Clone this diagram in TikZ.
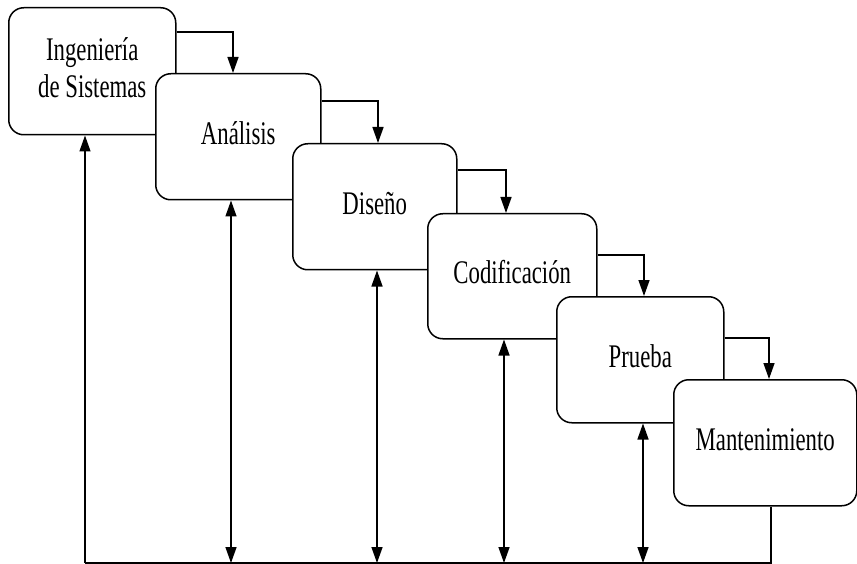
\documentclass[tikz,border=0pt]{standalone}
\usepackage{fontspec}
\setmainfont{Liberation Serif}
\usetikzlibrary{arrows.meta}
% narrow, tall lettering for the phase names
\newcommand{\phasetext}[1]{\scalebox{0.69}[1]{\begin{tabular}{@{}c@{}}#1\end{tabular}}}
\tikzset{
  phase/.style={draw, fill=white, line width=1.5pt, rounded corners=15pt,
    inner sep=0pt, anchor=north west,
    font=\fontsize{33}{37}\selectfont},
  link/.style={line width=1.4pt, -{Triangle[length=16pt,width=11pt]}},
  twoway/.style={line width=1.4pt, {Triangle[length=16pt,width=11pt]}-{Triangle[length=16pt,width=11pt]}},
  plain/.style={line width=1.4pt}
}
\begin{document}
\begin{tikzpicture}[x=1pt,y=1pt]
\useasboundingbox (0,0) rectangle (857,-564);

% phases of the cascade
\node[phase, minimum width=167pt, minimum height=127pt] (b1) at (8,-7)
  {\phasetext{Ingeniería\\de Sistemas}};
\node[phase, minimum width=165pt, minimum height=126pt] (b2) at (155,-73)
  {\phasetext{Análisis}};
\node[phase, minimum width=164pt, minimum height=126pt] (b3) at (292,-143)
  {\phasetext{Diseño}};
\node[phase, minimum width=169pt, minimum height=125pt] (b4) at (427,-213)
  {\phasetext{Codificación}};
\node[phase, minimum width=167pt, minimum height=126pt] (b5) at (556,-296)
  {\phasetext{Prueba}};
\node[phase, minimum width=183pt, minimum height=126pt] (b6) at (673,-379)
  {\phasetext{Mantenimiento}};

% forward steps from one phase to the next
\draw[link] ([yshift=-25pt]b1.north east) -| ([xshift=78pt]b2.north west);
\draw[link] ([yshift=-28pt]b2.north east) -| ([xshift=86pt]b3.north west);
\draw[link] ([yshift=-27pt]b3.north east) -| ([xshift=79pt]b4.north west);
\draw[link] ([yshift=-42pt]b4.north east) -| ([xshift=88pt]b5.north west);
\draw[link] ([yshift=-42pt]b5.north east) -| ([xshift=96pt]b6.north west);

% feedback bus along the bottom
\coordinate (f1) at (85,-563);
\coordinate (f2) at (231,-563);
\coordinate (f3) at (377,-563);
\coordinate (f4) at (504,-563);
\coordinate (f5) at (643,-563);
\coordinate (f6) at (771,-563);

\draw[plain] (f6 |- b6.south) -- (f6) -- (f1);
\draw[link] (f1) -- (f1 |- b1.south);
\draw[twoway] (f2 |- b2.south) -- (f2);
\draw[twoway] (f3 |- b3.south) -- (f3);
\draw[twoway] (f4 |- b4.south) -- (f4);
\draw[twoway] (f5 |- b5.south) -- (f5);
\end{tikzpicture}
\end{document}
